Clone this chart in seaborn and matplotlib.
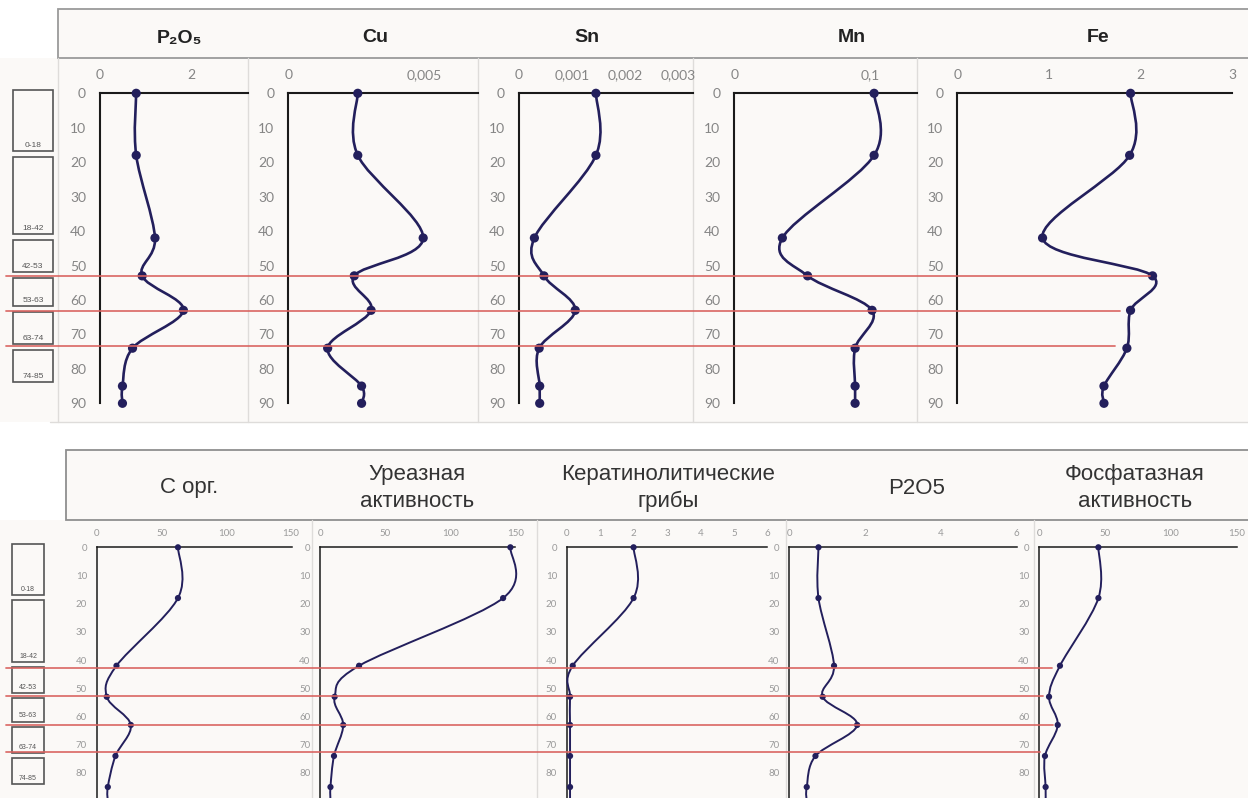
import numpy as np
import pandas as pd
import matplotlib
matplotlib.use("Agg")
import matplotlib.pyplot as plt
import seaborn as sns
from matplotlib.path import Path
from matplotlib.patches import PathPatch, Rectangle
from matplotlib.lines import Line2D
from matplotlib.transforms import blended_transform_factory

# depth of sampling points, cm
depth = [0, 18, 42, 53, 63, 74, 85, 90]

# upper block
p2o5_top = [0.79, 0.79, 1.20, 0.92, 1.82, 0.71, 0.49, 0.49]
cu = [0.00256, 0.00256, 0.00497, 0.00243, 0.00305, 0.00145, 0.0027, 0.0027]
sn = [0.00145, 0.00145, 0.00029, 0.00047, 0.00106, 0.00038, 0.00039, 0.00039]
mn = [0.103, 0.103, 0.0354, 0.054, 0.1015, 0.089, 0.089, 0.089]
fe = [1.89, 1.88, 0.93, 2.13, 1.89, 1.85, 1.60, 1.60]

# lower block
c_org = [62.7, 62.7, 15.2, 7.7, 26.3, 14.4, 8.5, 8.5]
urease = [146.3, 140.7, 29.9, 11.1, 17.7, 10.6, 7.9, 7.9]
kerat = [2.0, 2.0, 0.18, 0.1, 0.1, 0.1, 0.1, 0.1]
p2o5_bottom = [0.77, 0.77, 1.18, 0.88, 1.79, 0.69, 0.46, 0.46]
phosph = [44.9, 44.9, 15.7, 7.4, 14.0, 4.3, 4.8, 4.8]

horizons = ["0-18", "18-42", "42-53", "53-63", "63-74", "74-85"]
horizon_top = [0, 18, 42, 53, 63, 74]
horizon_bottom = [18, 42, 53, 63, 74, 85]
top_bounds = [53, 63.2, 73.5]
bottom_bounds = [42.8, 52.8, 62.9, 72.6]

W, H = 1248, 798
LINE = "#231f5c"
BG = "#fbf9f7"
RED = "#d9625f"

sns.set_style("white")
plt.rcParams["font.family"] = ["Liberation Sans", "DejaVu Sans"]

fig = plt.figure(figsize=(W / 100, H / 100), dpi=100)


def px_box(x0, x1, y0, y1):
    return [x0 / W, 1 - y1 / H, (x1 - x0) / W, (y1 - y0) / H]


def px_rect(x0, y0, x1, y1, **kw):
    r = Rectangle((x0 / W, 1 - y1 / H), (x1 - x0) / W, (y1 - y0) / H,
                  transform=fig.transFigure, **kw)
    fig.add_artist(r)


def px_vline(x, y0, y1, **kw):
    fig.add_artist(Line2D([x / W, x / W], [1 - y0 / H, 1 - y1 / H],
                          transform=fig.transFigure, **kw))


def smooth_path(x, y):
    # excel-like smoothed line as cubic bezier segments
    pts = np.column_stack([x, y]).astype(float)
    ext = np.vstack([pts[0], pts, pts[-1]])
    verts, codes = [pts[0]], [Path.MOVETO]
    for i in range(len(pts) - 1):
        p0, p1, p2, p3 = ext[i], ext[i + 1], ext[i + 2], ext[i + 3]
        verts += [p1 + (p2 - p0) / 6, p2 - (p3 - p1) / 6, p2]
        codes += [Path.CURVE4] * 3
    return Path(verts, codes)


def draw_profile(rect, values, xmax, ticks, labels, big):
    ax = fig.add_axes(rect)
    ax.set_facecolor("none")
    df = pd.DataFrame({"value": values, "depth": depth})
    ax.add_patch(PathPatch(smooth_path(df["value"], df["depth"]), fill=False,
                           ec=LINE, lw=1.9 if big else 1.4, zorder=3,
                           clip_on=False))
    sns.scatterplot(data=df, x="value", y="depth", ax=ax, color=LINE,
                    s=44 if big else 20, edgecolor="none", zorder=4,
                    clip_on=False, legend=False)
    ax.set_xlim(0, xmax)
    ax.set_ylim(90, 0)
    ax.set_xlabel("")
    ax.set_ylabel("")
    ax.xaxis.tick_top()
    ax.set_xticks(ticks)
    ax.set_xticklabels(labels)
    # lower block is cropped just above 90 cm
    ax.set_yticks(range(0, 91 if big else 81, 10))
    fs = 10 if big else 7
    col = "#858585" if big else "#9a9a9a"
    ax.tick_params(axis="x", length=0, pad=9 if big else 7, labelsize=fs,
                   labelcolor=col)
    ax.tick_params(axis="y", length=0, pad=10 if big else 7, labelsize=fs,
                   labelcolor=col)
    for lab in ax.get_xticklabels() + ax.get_yticklabels():
        lab.set_family(["Lato", "DejaVu Sans"])
    for side in ["right", "bottom"]:
        ax.spines[side].set_visible(False)
    for side in ["top", "left"]:
        ax.spines[side].set_color("#1a1a1a")
        ax.spines[side].set_linewidth(1.5 if big else 1.1)
    return ax


def draw_horizons(rect, label_size):
    ax = fig.add_axes(rect)
    ax.set_xlim(0, 1)
    ax.set_ylim(90, 0)
    ax.axis("off")
    for name, a, b in zip(horizons, horizon_top, horizon_bottom):
        top = -1 if a == 0 else a + 0.6
        bot = b - 1.2
        ax.add_patch(Rectangle((0, top), 1, bot - top, fill=False,
                               ec="#555555", lw=1.2, clip_on=False))
        ax.annotate(name, (0.5, bot), xytext=(0, 1.5),
                    textcoords="offset points", ha="center", va="bottom",
                    fontsize=label_size, color="#555555")
    return ax


# backgrounds and frames
px_rect(0, 58, W, 422, facecolor=BG, edgecolor="none", zorder=-10)
px_rect(58, 9, W + 2, 58, facecolor=BG, edgecolor="#9a9a9a", lw=1.3, zorder=-9)
px_rect(0, 520, W, H, facecolor=BG, edgecolor="none", zorder=-10)
px_rect(66, 450, W + 2, 520, facecolor=BG, edgecolor="#8f8f8f", lw=1.3, zorder=-9)
for x in [58, 248, 478, 693, 917]:
    px_vline(x, 58, 422, color="#dedcda", lw=1, zorder=-8)
fig.add_artist(Line2D([50 / W, 1], [1 - 422 / H] * 2, transform=fig.transFigure,
                      color="#dedcda", lw=1, zorder=-8))
for x in [311.6, 537, 786, 1034]:
    px_vline(x, 520, H, color="#dedcda", lw=1, zorder=-8)

# upper block profiles
TY0, TY1 = 93.3, 403.3
top_axes = [
    draw_profile(px_box(100, 248, TY0, TY1), p2o5_top, 3.23, [0, 2], ["0", "2"], True),
    draw_profile(px_box(288.3, 478, TY0, TY1), cu, 0.00699, [0, 0.005], ["0", "0,005"], True),
    draw_profile(px_box(519, 693, TY0, TY1), sn, 0.00328, [0, 0.001, 0.002, 0.003],
                 ["0", "0,001", "0,002", "0,003"], True),
    draw_profile(px_box(734.3, 917, TY0, TY1), mn, 0.1346, [0, 0.1], ["0", "0,1"], True),
    draw_profile(px_box(957.3, 1232.3, TY0, TY1), fe, 3, [0, 1, 2, 3],
                 ["0", "1", "2", "3"], True),
]
draw_horizons(px_box(13, 53, TY0, TY1), 6)

top_titles = ["P\u2082O\u2085", "Cu", "Sn", "Mn", "Fe"]
top_title_x = [180, 375, 587, 852, 1098]
for t, x in zip(top_titles, top_title_x):
    fig.text(x / W, 1 - 38 / H, t, ha="center", va="center", fontsize=14,
             fontweight="bold", color="#222222")

# lower block profiles
BY0 = 547.3
BY1 = BY0 + 90 * 2.82
bottom_axes = [
    draw_profile(px_box(96.8, 292, BY0, BY1), c_org, 150.8, [0, 50, 100, 150],
                 ["0", "50", "100", "150"], False),
    draw_profile(px_box(320.2, 515.2, BY0, BY1), urease, 150, [0, 50, 100, 150],
                 ["0", "50", "100", "150"], False),
    draw_profile(px_box(566.7, 767.3, BY0, BY1), kerat, 6, list(range(7)),
                 [str(i) for i in range(7)], False),
    draw_profile(px_box(789.3, 1016.7, BY0, BY1), p2o5_bottom, 6, [0, 2, 4, 6],
                 ["0", "2", "4", "6"], False),
    draw_profile(px_box(1039.3, 1236.7, BY0, BY1), phosph, 150, [0, 50, 100, 150],
                 ["0", "50", "100", "150"], False),
]
draw_horizons(px_box(12, 44, BY0, BY1), 5)

bottom_titles = ["С орг.", "Уреазная\nактивность", "Кератинолитические\nгрибы",
                 "P2O5", "Фосфатазная\nактивность"]
bottom_title_x = [189, 417, 668, 917, 1135]
for t, x in zip(bottom_titles, bottom_title_x):
    fig.text(x / W, 1 - 488 / H, t, ha="center", va="center", fontsize=16,
             color="#333333", linespacing=1.4)

# horizon boundaries
top_ends = [1150, 1120, 1115]
tr = blended_transform_factory(fig.transFigure, top_axes[0].transData)
for d, xe in zip(top_bounds, top_ends):
    fig.add_artist(Line2D([6 / W, xe / W], [d, d], transform=tr, color=RED,
                          lw=1.3, alpha=0.9, zorder=5))

bottom_ends = [1052, 1043, 1053, 1040]
tr = blended_transform_factory(fig.transFigure, bottom_axes[0].transData)
for d, xe in zip(bottom_bounds, bottom_ends):
    fig.add_artist(Line2D([6 / W, xe / W], [d, d], transform=tr, color=RED,
                          lw=1.3, alpha=0.9, zorder=5))

fig.savefig("out.png", dpi=100)
